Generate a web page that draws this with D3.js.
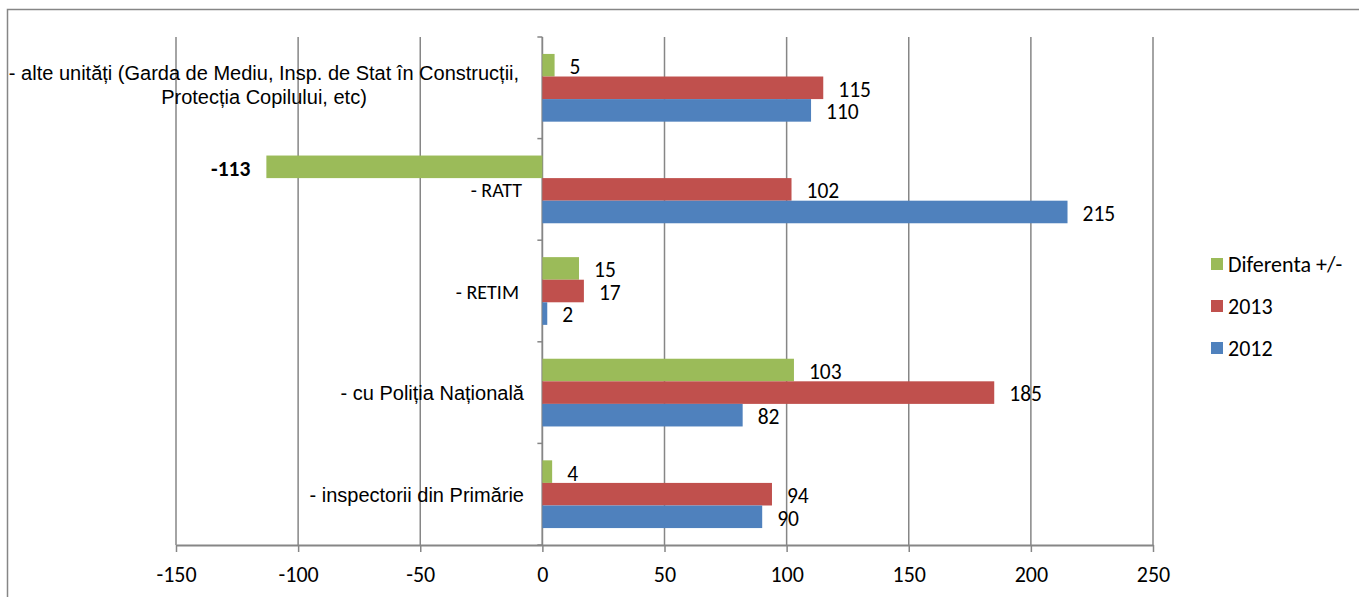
<!DOCTYPE html>
<html>
<head>
<meta charset="utf-8">
<script src="https://cdn.jsdelivr.net/npm/d3@7"></script>
<style>
  body { margin: 0; background: #fff; }
  svg { display: block; }
</style>
</head>
<body>
<svg></svg>
<script>
// Chart data (top to bottom as shown)
const categories = [
  "- alte unități (Garda de Mediu, Insp. de Stat în Construcții,|Protecția Copilului, etc)",
  "- RATT",
  "- RETIM",
  "- cu Poliția Națională",
  "- inspectorii din Primărie"
];
const seriesNames = ["Diferenta +/-", "2013", "2012"];
const values2012 = [110, 215, 2, 82, 90];
const values2013 = [115, 102, 17, 185, 94];
const valuesDiff = [5, -113, 15, 103, 4];
const xTicks = [-150, -100, -50, 0, 50, 100, 150, 200, 250];

const colors = ["#9BBB59", "#C0504D", "#4F81BD"];
const seriesValues = [valuesDiff, values2013, values2012];

const width = 1359;
const height = 597;
const margin = { top: 37, right: 206, bottom: 52, left: 176 };
const calibri = "Carlito, Lato, 'Open Sans', sans-serif";
const arial = "'Liberation Sans', Arial, sans-serif";
const gridColor = "#868686";

const svg = d3.select("svg").attr("width", width).attr("height", height);

// Outer frame of the chart area
svg.append("path")
  .attr("d", `M7.5,${height} V9.5 H${width}`)
  .attr("fill", "none")
  .attr("stroke", gridColor)
  .attr("stroke-width", 1.5);

// Scales
const x = d3.scaleLinear().domain([-150, 250]).range([margin.left, width - margin.right]);
const y = d3.scaleBand().domain(d3.range(categories.length))
  .range([margin.top, height - margin.bottom]).padding(0);
const ySub = d3.scaleBand().domain(d3.range(seriesNames.length))
  .range([0, y.bandwidth()]).paddingInner(0).paddingOuter(0.75);

// Vertical gridlines
svg.append("g")
  .selectAll("line")
  .data(xTicks)
  .join("line")
  .attr("x1", d => x(d)).attr("x2", d => x(d))
  .attr("y1", margin.top).attr("y2", height - margin.bottom)
  .attr("stroke", gridColor)
  .attr("stroke-width", 1.5);

// X axis
const xAxis = svg.append("g")
  .attr("transform", `translate(0,${height - margin.bottom})`)
  .call(d3.axisBottom(x).tickValues(xTicks).tickFormat(d => String(d))
    .tickSize(7).tickSizeOuter(0).tickPadding(14));
xAxis.select(".domain").attr("stroke", gridColor).attr("stroke-width", 2);
xAxis.selectAll(".tick line").attr("stroke", gridColor).attr("stroke-width", 1.5);
xAxis.selectAll(".tick text")
  .style("font-family", calibri).style("font-size", "22px").attr("fill", "#000");

// Category axis on zero line
const yAxis = svg.append("g").attr("transform", `translate(${x(0)},0)`);
yAxis.selectAll("line")
  .data(d3.range(categories.length + 1))
  .join("line")
  .attr("x1", -5).attr("x2", 0)
  .attr("y1", i => margin.top + i * y.step())
  .attr("y2", i => margin.top + i * y.step())
  .attr("stroke", gridColor).attr("stroke-width", 1.5);
yAxis.append("line")
  .attr("y1", margin.top).attr("y2", height - margin.bottom)
  .attr("stroke", gridColor).attr("stroke-width", 1.5);

// Bars
seriesValues.forEach((vals, s) => {
  const g = svg.append("g");
  g.selectAll("rect")
    .data(vals)
    .join("rect")
    .attr("x", d => x(Math.min(0, d)))
    .attr("width", d => Math.abs(x(d) - x(0)))
    .attr("y", (d, i) => y(i) + ySub(s))
    .attr("height", ySub.bandwidth())
    .attr("fill", colors[s]);

  g.selectAll("text")
    .data(vals)
    .join("text")
    .attr("x", d => d < 0 ? x(d) - 16 : x(d) + 15)
    .attr("y", (d, i) => y(i) + ySub(s) + ySub.bandwidth() / 2 + 2)
    .attr("dy", "0.32em")
    .attr("text-anchor", d => d < 0 ? "end" : "start")
    .style("font-family", calibri)
    .style("font-size", "21.5px")
    .style("font-weight", d => d < 0 ? "bold" : "normal")
    .text(d => d);
});

// Category labels
categories.forEach((c, i) => {
  const cy = y(i) + y.bandwidth() / 2;
  const lines = c.split("|");
  if (lines.length > 1) {
    const t = svg.append("text")
      .attr("text-anchor", "middle")
      .style("font-family", arial)
      .style("font-size", "20px");
    lines.forEach((ln, k) => {
      t.append("tspan")
        .attr("x", 264)
        .attr("y", cy - 3 + (k - (lines.length - 1) / 2) * 24)
        .attr("dy", "0.35em")
        .text(ln);
    });
  } else {
    const useCalibri = c === "- RATT" || c === "- RETIM";
    svg.append("text")
      .attr("x", c === "- RETIM" ? 519 : useCalibri ? 522 : 524)
      .attr("y", cy + 1)
      .attr("dy", "0.33em")
      .attr("text-anchor", "end")
      .style("font-family", useCalibri ? calibri : arial)
      .style("font-size", "20px")
      .text(c);
  }
});

// Legend
const legend = svg.append("g").attr("transform", "translate(1211,264)");
seriesNames.forEach((name, i) => {
  const g = legend.append("g").attr("transform", `translate(0,${i * 42})`);
  g.append("rect")
    .attr("x", 0).attr("y", -6)
    .attr("width", 12).attr("height", 12)
    .attr("fill", colors[i]);
  g.append("text")
    .attr("x", 17).attr("y", 1)
    .attr("dy", "0.32em")
    .style("font-family", calibri)
    .style("font-size", "22px")
    .text(name);
});
</script>
</body>
</html>
